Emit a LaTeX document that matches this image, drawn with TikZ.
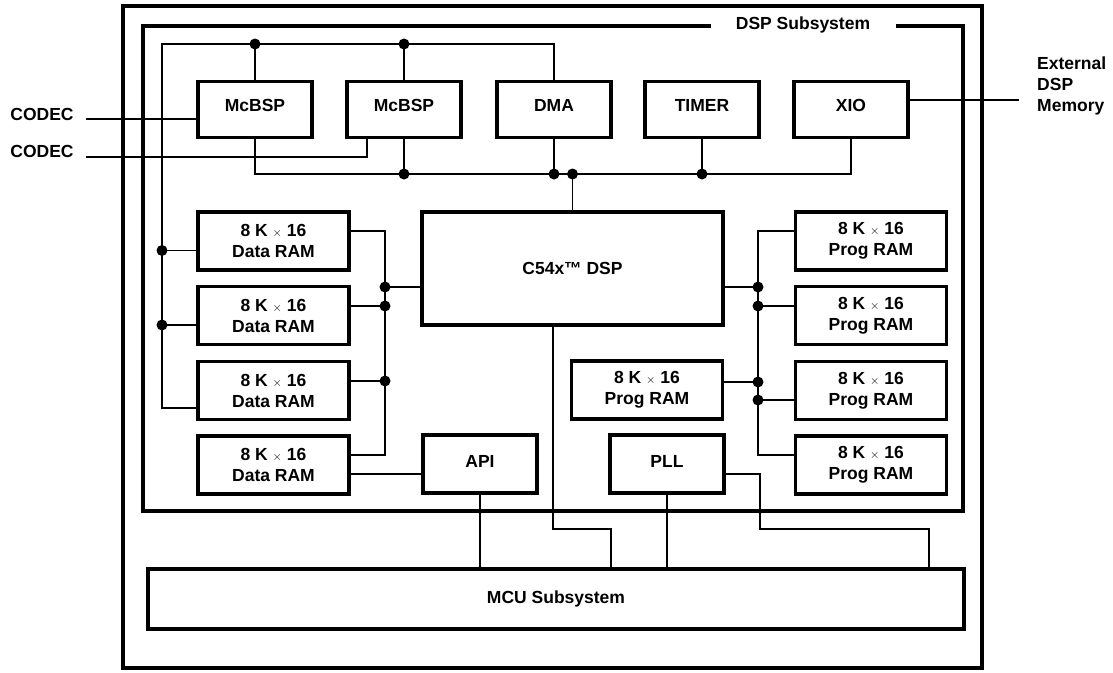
\documentclass[tikz,border=0pt]{standalone}
\usepackage{fontspec}
\setmainfont{Liberation Sans}
\newcommand\dfont{\fontsize{17.5}{21}\selectfont\bfseries}
\newcommand\tms{{\fontsize{13}{13}\selectfont$\times$}}
\begin{document}
\begin{tikzpicture}[x=1pt,y=-1pt,
  every node/.style={font=\dfont},
  frame/.style={line width=3.4pt},
  box/.style={draw, line width=3.4pt, inner sep=0pt},
  sbox/.style={box, minimum width=114pt, minimum height=56pt, text depth=9pt},
  ram/.style={box, minimum width=151pt, minimum height=58pt, align=center},
  wire/.style={line width=1.2pt},
  dot/.style={circle, fill=black, inner sep=0pt, minimum size=11pt}]
\useasboundingbox (0,0) rectangle (1113,672);

% frames
\draw[frame] (123,6) rectangle (982,668);
\node (title) at (803,25) {DSP Subsystem};
\draw[frame] (711,26) -- (143,26) -- (143,511) -- (963,511) -- (963,26) -- (896,26);

% top row
\node[sbox] (mc1) at (255,109.5) {McBSP};
\node[sbox] (mc2) at (404,109.5) {McBSP};
\node[sbox] (dma) at (554,109.5) {DMA};
\node[sbox] (timer) at (702,109.5) {TIMER};
\node[sbox] (xio) at (851,109.5) {XIO};

% data RAMs
\node[ram] (dr1) at (273.5,241) {8 K \tms{} 16\\Data RAM};
\node[ram] (dr2) at (273.5,315.5) {8 K \tms{} 16\\Data RAM};
\node[ram] (dr3) at (273.5,390.5) {8 K \tms{} 16\\Data RAM};
\node[ram] (dr4) at (273.5,465) {8 K \tms{} 16\\Data RAM};

% core
\node[box, minimum width=301pt, minimum height=113pt] (c54) at (572.5,268.5) {C54x™ DSP};

% prog RAMs
\node[ram] (pr1) at (871,241) {8 K \tms{} 16\\Prog RAM};
\node[ram] (pr2) at (871,315.5) {8 K \tms{} 16\\Prog RAM};
\node[ram] (pr3) at (871,390.5) {8 K \tms{} 16\\Prog RAM};
\node[ram] (pr4) at (871,465) {8 K \tms{} 16\\Prog RAM};
\node[ram] (prl) at (647,390) {8 K \tms{} 16\\Prog RAM};

% API, PLL, MCU
\node[box, minimum width=114pt, minimum height=58pt, text depth=6pt] (api) at (480,464) {API};
\node[box, minimum width=114pt, minimum height=58pt, text depth=6pt] (pll) at (667,464) {PLL};
\node[box, minimum width=816pt, minimum height=60pt] (mcu) at (556,599) {MCU Subsystem};

% outside labels
\node (cod1) at (42,114) {CODEC};
\node (cod2) at (42,151) {CODEC};
\node[align=left, anchor=north west, inner sep=0pt] (ext) at (1037,57) {External\\DSP\\Memory};

% top bus
\coordinate (tl) at (162,44);
\draw[wire] ([yshift=-17.5pt]dr3.west) -| (tl) -| (dma.north);
\draw[wire] (mc1.north) -- (mc1.north |- tl) node[dot] (t1) {};
\draw[wire] (mc2.north) -- (mc2.north |- tl) node[dot] (t2) {};
\coordinate (l1) at ([yshift=-9.5pt]dr1.west);
\coordinate (l2) at ([yshift=-9.5pt]dr2.west);
\draw[wire] (l1) -- (l1 -| tl) node[dot] (t3) {};
\draw[wire] (l2) -- (l2 -| tl) node[dot] (t4) {};

% bottom bus of peripherals
\coordinate (bus) at (0,174);
\draw[wire] (mc1.south) |- (xio.south |- bus) -- (xio.south);
\draw[wire] (mc2.south) -- (mc2.south |- bus) node[dot] (b1) {};
\draw[wire] (dma.south) -- (dma.south |- bus) node[dot] (b2) {};
\draw[wire] (c54.north) -- (c54.north |- bus) node[dot] (b3) {};
\draw[wire] (timer.south) -- (timer.south |- bus) node[dot] (b4) {};

% CODEC and external memory
\coordinate (c1) at (86,119);
\draw[wire] (c1) -- (c1 -| mc1.west);
\coordinate (c2) at (86,157);
\coordinate (m2s) at ([xshift=-37pt]mc2.south);
\draw[wire] (c2) -| (m2s);
\coordinate (x1) at ([yshift=9.5pt]xio.east);
\coordinate (xe) at (1019,0);
\draw[wire] (x1) -- (x1 -| xe);

% data RAM bus
\coordinate (dbus) at (385,300);
\coordinate (r1) at ([yshift=10pt]dr1.east);
\coordinate (r4) at ([yshift=10pt]dr4.east);
\draw[wire] (r1) -| (dbus) |- (r4);
\coordinate (r2) at ([yshift=9.5pt]dr2.east);
\coordinate (r3) at ([yshift=9.5pt]dr3.east);
\coordinate (cw) at ([yshift=-18.5pt]c54.west);
\draw[wire] (cw) -- (cw -| dbus) node[dot] (e1) {};
\draw[wire] (r2) -- (r2 -| dbus) node[dot] (e2) {};
\draw[wire] (r3) -- (r3 -| dbus) node[dot] (e3) {};
\coordinate (r5) at ([yshift=-9pt]dr4.east);
\draw[wire] (r5) -- (r5 -| api.west);

% prog RAM bus
\coordinate (pbus) at (758,300);
\coordinate (p1) at ([yshift=10pt]pr1.west);
\coordinate (p4) at ([yshift=10pt]pr4.west);
\draw[wire] (p1) -| (pbus) |- (p4);
\coordinate (ce) at ([yshift=-18.5pt]c54.east);
\coordinate (p2) at ([yshift=9.5pt]pr2.west);
\coordinate (pl) at ([yshift=8pt]prl.east);
\coordinate (p3) at ([yshift=-9.5pt]pr3.west);
\draw[wire] (ce) -- (ce -| pbus) node[dot] (f1) {};
\draw[wire] (p2) -- (p2 -| pbus) node[dot] (f2) {};
\draw[wire] (pl) -- (pl -| pbus) node[dot] (f3) {};
\draw[wire] (p3) -- (p3 -| pbus) node[dot] (f4) {};

% links to MCU
\coordinate (cb) at ([xshift=-19.5pt]c54.south);
\coordinate (j1) at (611,529);
\draw[wire] (cb) |- (j1) -- (j1 |- mcu.north);
\draw[wire] (api.south) -- (api.south |- mcu.north);
\draw[wire] (pll.south) -- (pll.south |- mcu.north);
\coordinate (pe) at ([yshift=-10pt]pll.east);
\coordinate (j2) at (760,529);
\coordinate (m4) at (929,0);
\draw[wire] (pe) -| (j2) -| (m4 |- mcu.north);
\end{tikzpicture}
\end{document}
